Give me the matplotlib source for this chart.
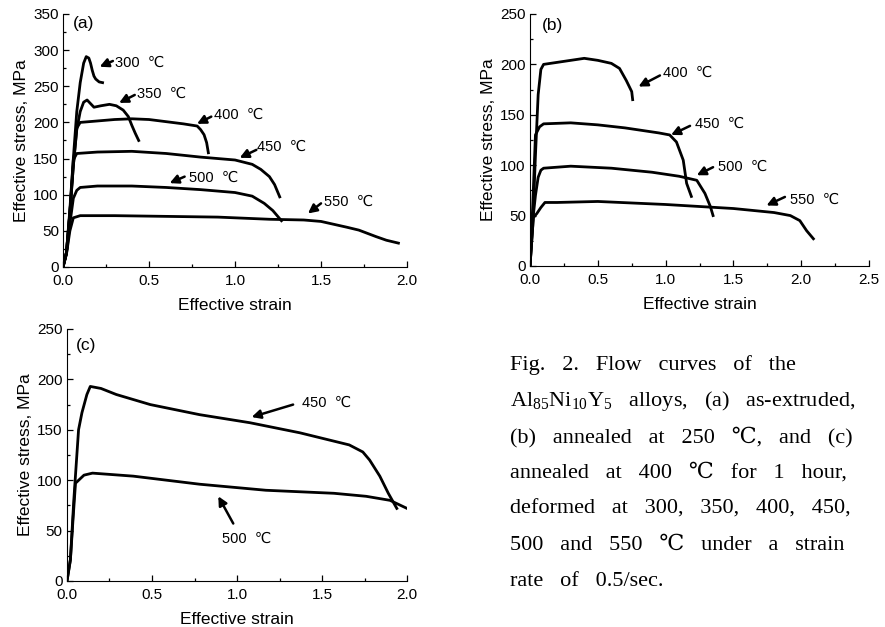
import matplotlib
matplotlib.use("Agg")
import matplotlib.pyplot as plt
from matplotlib.ticker import MultipleLocator

# ---- data (strain, stress in MPa) ----
# (a) as-extruded
a_300_x = [0.0, 0.02, 0.04, 0.06, 0.08, 0.10, 0.12, 0.135, 0.15, 0.16, 0.17, 0.18, 0.19, 0.21, 0.23]
a_300_y = [0, 20, 80, 150, 215, 255, 282, 291, 289, 282, 272, 264, 260, 256, 255]
a_350_x = [0.0, 0.02, 0.04, 0.06, 0.08, 0.10, 0.12, 0.14, 0.16, 0.18, 0.22, 0.27, 0.31, 0.35, 0.38, 0.40, 0.42, 0.44]
a_350_y = [0, 20, 75, 140, 190, 215, 228, 231, 226, 221, 223, 225, 223, 217, 208, 196, 185, 175]
a_400_x = [0.0, 0.02, 0.04, 0.06, 0.08, 0.10, 0.2, 0.3, 0.4, 0.5, 0.6, 0.7, 0.78, 0.80, 0.82, 0.835, 0.845]
a_400_y = [0, 20, 75, 140, 192, 200, 202, 204, 205, 204, 201, 198, 195, 190, 183, 172, 158]
a_450_x = [0.0, 0.02, 0.04, 0.06, 0.08, 0.2, 0.4, 0.6, 0.8, 1.0, 1.1, 1.15, 1.2, 1.23, 1.26]
a_450_y = [0, 20, 75, 148, 157, 159, 160, 157, 152, 148, 142, 135, 125, 114, 97]
a_500_x = [0.0, 0.02, 0.04, 0.06, 0.08, 0.1, 0.2, 0.4, 0.6, 0.8, 1.0, 1.1, 1.17, 1.22, 1.27]
a_500_y = [0, 18, 60, 95, 106, 110, 112, 112, 110, 107, 103, 98, 88, 78, 64]
a_550_x = [0.0, 0.02, 0.04, 0.06, 0.1, 0.3, 0.6, 0.9, 1.2, 1.4, 1.5, 1.65, 1.72, 1.82, 1.88, 1.95]
a_550_y = [0, 18, 50, 68, 71, 71, 70, 69, 66, 65, 63, 55, 51, 42, 37, 33]

# (b) annealed at 250 C
b_400_x = [0.0, 0.02, 0.04, 0.06, 0.08, 0.1, 0.2, 0.3, 0.4, 0.5, 0.6, 0.66, 0.71, 0.75, 0.757]
b_400_y = [0, 40, 110, 170, 195, 200, 202, 204, 206, 204, 201, 196, 184, 173, 165]
b_450_x = [0.0, 0.02, 0.04, 0.07, 0.1, 0.3, 0.5, 0.7, 0.95, 1.03, 1.08, 1.13, 1.155, 1.19]
b_450_y = [0, 60, 130, 138, 141, 142, 140, 137, 132, 130, 123, 105, 82, 69]
b_500_x = [0.0, 0.02, 0.04, 0.06, 0.08, 0.1, 0.3, 0.6, 0.9, 1.1, 1.23, 1.29, 1.33, 1.35]
b_500_y = [0, 45, 70, 88, 95, 97, 99, 97, 93, 89, 85, 72, 59, 50]
b_550_x = [0.0, 0.015, 0.025, 0.05, 0.08, 0.11, 0.2, 0.5, 1.0, 1.5, 1.8, 1.92, 1.99, 2.04, 2.09]
b_550_y = [0, 30, 48, 52, 58, 63, 63, 64, 61, 57, 53, 50, 45, 35, 27]

# (c) annealed at 400 C for 1 hour
c_450_x = [0.0, 0.02, 0.04, 0.068, 0.088, 0.117, 0.137, 0.2, 0.29, 0.49, 0.78, 1.076, 1.37, 1.66, 1.74, 1.78, 1.84, 1.89, 1.94]
c_450_y = [0, 21, 80, 150, 167, 185, 193, 191, 185, 175, 165, 157, 147, 135, 128, 120, 104, 87, 72]
c_500_x = [0.0, 0.02, 0.035, 0.05, 0.1, 0.15, 0.39, 0.78, 1.17, 1.57, 1.76, 1.90, 2.0]
c_500_y = [0, 21, 60, 97, 105, 107, 104, 96, 90, 87, 84, 80, 72]

# label text positions and arrow (tail -> head) in data units
a_labels = [("300  ℃", (0.30, 282), (0.29, 285), (0.213, 277)),
            ("350  ℃", (0.43, 240), (0.417, 238), (0.326, 227)),
            ("400  ℃", (0.88, 211), (0.862, 208), (0.779, 198)),
            ("450  ℃", (1.13, 166), (1.124, 162), (1.027, 151)),
            ("500  ℃", (0.73, 123), (0.707, 125), (0.62, 116)),
            ("550  ℃", (1.52, 90), (1.50, 88), (1.424, 74))]
b_labels = [("400  ℃", (0.98, 192), (0.958, 189), (0.80, 178)),
            ("450  ℃", (1.215, 141), (1.18, 139), (1.04, 130)),
            ("500  ℃", (1.39, 98), (1.35, 98), (1.23, 90)),
            ("550  ℃", (1.915, 66), (1.88, 68.5), (1.744, 60))]
c_labels = [("450  ℃", (1.38, 177), (1.33, 175), (1.086, 162.6)),
            ("500  ℃", (0.91, 42), (0.978, 57), (0.89, 84))]

caption = ["Fig.   2.   Flow   curves   of   the",
           r"Al$_{85}$Ni$_{10}$Y$_{5}$   alloys,   (a)   as-extruded,",
           "(b)   annealed   at   250   ℃,   and   (c)",
           "annealed   at   400   ℃   for   1   hour,",
           "deformed   at   300,   350,   400,   450,",
           "500   and   550   ℃   under   a   strain",
           "rate   of   0.5/sec."]

SANS = ["Liberation Sans", "DejaVu Sans"]
SERIF = ["Liberation Serif", "DejaVu Serif"]
plt.rcParams["font.family"] = SANS
plt.rcParams["mathtext.fontset"] = "custom"
plt.rcParams["mathtext.rm"] = "Liberation Serif"


def setup_axes(ax, xmax, ymax, xmajor, ymajor, tag, tagpos):
    ax.set_xlim(0, xmax)
    ax.set_ylim(0, ymax)
    ax.spines["top"].set_visible(False)
    ax.spines["right"].set_visible(False)
    ax.xaxis.set_major_locator(MultipleLocator(xmajor))
    ax.xaxis.set_minor_locator(MultipleLocator(xmajor / 2))
    ax.yaxis.set_major_locator(MultipleLocator(ymajor))
    ax.yaxis.set_minor_locator(MultipleLocator(ymajor / 2))
    ax.xaxis.set_major_formatter(plt.FormatStrFormatter("%.1f"))
    ax.tick_params(which="both", direction="in", labelsize=11, width=0.9)
    ax.tick_params(which="major", length=4, pad=3)
    ax.tick_params(axis="x", which="major", pad=5)
    ax.tick_params(which="minor", length=2)
    ax.set_xlabel("Effective strain", fontsize=12.5, labelpad=7)
    ax.set_ylabel("Effective stress, MPa", fontsize=12.5, labelpad=3)
    ax.text(tagpos[0], tagpos[1], tag, fontsize=12.5, va="center", ha="left")


def add_labels(ax, labels):
    for txt, tpos, tail, head in labels:
        ax.text(tpos[0], tpos[1], txt, fontsize=10.5, va="center", ha="left")
        ax.annotate("", xy=head, xytext=tail,
                    arrowprops=dict(arrowstyle="-|>", color="k", lw=1.8,
                                    mutation_scale=13, shrinkA=0, shrinkB=0))


fig = plt.figure(figsize=(8.85, 6.27), dpi=100)

# (a)
ax_a = fig.add_axes([0.0712, 0.5742, 0.3887, 0.4035])
for x, y in [(a_300_x, a_300_y), (a_350_x, a_350_y), (a_400_x, a_400_y),
             (a_450_x, a_450_y), (a_500_x, a_500_y), (a_550_x, a_550_y)]:
    ax_a.plot(x, y, color="k", lw=2.0)
setup_axes(ax_a, 2.0, 350, 0.5, 50, "(a)", (0.055, 337))
add_labels(ax_a, a_labels)

# (b)
ax_b = fig.add_axes([0.5989, 0.5758, 0.383, 0.4019])
for x, y in [(b_400_x, b_400_y), (b_450_x, b_450_y),
             (b_500_x, b_500_y), (b_550_x, b_550_y)]:
    ax_b.plot(x, y, color="k", lw=2.0)
setup_axes(ax_b, 2.5, 250, 0.5, 50, "(b)", (0.085, 239))
add_labels(ax_b, b_labels)

# (c)
ax_c = fig.add_axes([0.0757, 0.0734, 0.3842, 0.4019])
for x, y in [(c_450_x, c_450_y), (c_500_x, c_500_y)]:
    ax_c.plot(x, y, color="k", lw=2.0)
setup_axes(ax_c, 2.0, 250, 0.5, 50, "(c)", (0.05, 234))
add_labels(ax_c, c_labels)

# caption
line_y = [365, 401, 437, 473, 509, 545, 581]
for txt, yp in zip(caption, line_y):
    fig.text(510 / 885, 1 - yp / 627, txt, fontsize=16, family=SERIF,
             va="center", ha="left")

fig.savefig("out.png", dpi=100)
